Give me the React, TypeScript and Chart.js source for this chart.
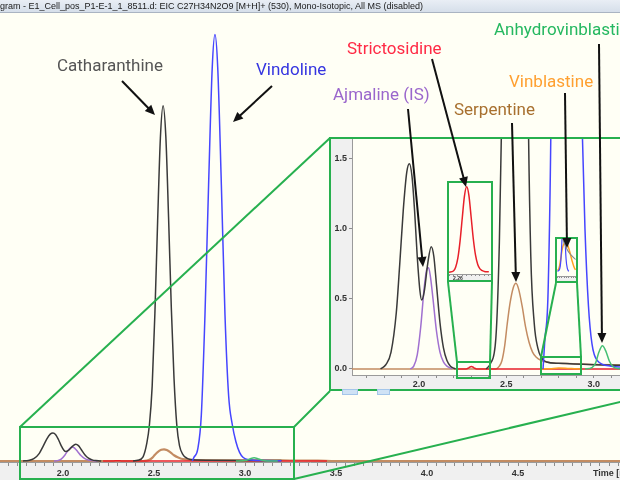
import React, { useEffect, useRef } from 'react';
import { Chart, registerables } from 'chart.js';

Chart.register(...registerables);

type Pt = [number, number | null];

// ---- EIC traces: [retention time (min), intensity (inset units)] ----
const catharanthine: Pt[] = [
  [1.78, 0], [1.81, 0.03], [1.84, 0.12], [1.87, 0.4], [1.89, 0.75], [1.91, 1.13], [1.93, 1.4],
  [1.945, 1.46], [1.96, 1.37], [1.975, 1.12], [1.99, 0.8], [2.005, 0.56], [2.015, 0.49], [2.03, 0.55],
  [2.05, 0.75], [2.07, 0.87], [2.085, 0.8], [2.1, 0.6], [2.12, 0.33], [2.14, 0.15], [2.16, 0.06],
  [2.18, 0.02], [2.2, 0.005], [2.21, 0], [2.3, null],
  [2.385, 0], [2.41, 0.04], [2.44, 0.22], [2.46, 0.9], [2.475, 1.9], [2.49, 3.9], [2.505, 7.7],
  [2.52, 12.5], [2.535, 16.8], [2.55, 18.5], [2.565, 16.9], [2.58, 12.7], [2.595, 8.0], [2.61, 4.3],
  [2.625, 1.9], [2.64, 0.8], [2.66, 0.32], [2.68, 0.15], [2.7, 0.08], [2.73, 0.05], [2.8, 0.04],
  [3.0, 0.03], [3.2, 0.025],
];
const vindoline: Pt[] = [
  [2.71, 0], [2.72, 0.2], [2.74, 0.6], [2.76, 2.4], [2.78, 7.6], [2.8, 14.4], [2.82, 20.5],
  [2.835, 22.2], [2.85, 20.5], [2.87, 14.4], [2.89, 7.6], [2.91, 3.4], [2.93, 1.9], [2.95, 1.0],
  [2.97, 0.45], [2.99, 0.18], [3.02, 0.06], [3.1, 0.02], [3.2, 0.01],
];
const ajmaline: Pt[] = [
  [1.95, 0], [1.97, 0.02], [1.99, 0.1], [2.01, 0.3], [2.03, 0.58], [2.045, 0.71], [2.055, 0.72],
  [2.065, 0.66], [2.08, 0.5], [2.1, 0.27], [2.12, 0.12], [2.14, 0.05], [2.16, 0.02], [2.19, 0],
];
const serpentine: Pt[] = [
  [1.6, 0], [2.44, 0], [2.46, 0.02], [2.475, 0.06], [2.49, 0.16], [2.505, 0.32], [2.52, 0.46],
  [2.54, 0.58], [2.555, 0.61], [2.57, 0.57], [2.59, 0.45], [2.61, 0.3], [2.63, 0.19], [2.65, 0.12],
  [2.67, 0.085], [2.7, 0.06], [2.75, 0.045], [2.85, 0.038], [3.0, 0.032], [3.2, 0.028], [3.4, 0.02],
  [3.5, 0], [5.2, 0],
];
const strictosidine: Pt[] = [
  [2.22, 0], [2.27, 0], [2.285, 0.008], [2.3, 0.018], [2.315, 0.008], [2.33, 0], [3.45, 0],
];
const vinblastine: Pt[] = [
  [2.7, 0], [2.75, 0.002], [2.8, 0.006], [2.85, 0.004], [2.9, 0.001], [2.93, 0],
];
const anhydrovinblastine: Pt[] = [
  [2.95, 0], [2.99, 0.01], [3.01, 0.04], [3.03, 0.12], [3.05, 0.165], [3.07, 0.125], [3.09, 0.055],
  [3.11, 0.018], [3.14, 0.003], [3.18, 0],
];

// ---- zoom boxes ----
const strictosidineZoom: Pt[] = [
  [2.22, 0], [2.24, 0.0003], [2.25, 0.0012], [2.26, 0.0033], [2.27, 0.0073], [2.28, 0.0127],
  [2.29, 0.0179], [2.3, 0.02], [2.31, 0.018], [2.32, 0.013], [2.33, 0.0078], [2.34, 0.004],
  [2.35, 0.0018], [2.36, 0.0008], [2.38, 0.0002], [2.4, 0.0001],
];
const vinblastineZoom: Pt[] = [
  [2.78, 0.05], [2.785, 0.08], [2.79, 0.2], [2.795, 0.42], [2.8, 0.65], [2.805, 0.8], [2.81, 0.87],
  [2.818, 0.88], [2.825, 0.82], [2.835, 0.6], [2.845, 0.33], [2.855, 0.12], [2.86, 0.07],
];
const vindolineZoom: Pt[] = [
  [2.78, 0.02], [2.79, 0.1], [2.795, 0.35], [2.8, 1.0], [2.804, 2.0], [2.807, 3.0], [2.81, 2.0],
  [2.814, 1.0], [2.818, 0.4], [2.824, 0.1], [2.83, 0.02],
];
const otherZoom: Pt[] = [
  [2.8, 1.3], [2.806, 0.95], [2.812, 0.85], [2.82, 0.72], [2.83, 0.6], [2.845, 0.48], [2.86, 0.38],
];

// ---- tick labels ----
const mainXLabels = [2.0, 2.5, 3.0, 3.5, 4.0, 4.5];
const insetXLabels = [2.0, 2.5, 3.0];
const insetYLabels = [0.0, 0.5, 1.0, 1.5];
const strictZoomLabels = [2.26];

const C = {
  black: '#3a3a3a',
  blue: '#4646ff',
  purple: '#a070d0',
  brown: '#c38c62',
  red: '#e8202a',
  orange: '#ffa020',
  green: '#45c074',
  gray: '#8a8a8a',
  frame: '#27b04f',
  ivory: '#fffff5',
  panel: '#f0f0f0',
};

function toXY(p: Pt[]) {
  return p.map(([x, y]) => ({ x, y }));
}

function line(data: Pt[], color: string, width = 1.5) {
  return {
    data: toXY(data),
    borderColor: color,
    borderWidth: width,
    pointRadius: 0,
    pointHoverRadius: 0,
    fill: false,
    cubicInterpolationMode: 'monotone',
    spanGaps: false,
  };
}

const bgPlugin = {
  id: 'bgfill',
  beforeDraw(chart: any) {
    const { ctx, chartArea: a, width, height } = chart;
    ctx.save();
    ctx.fillStyle = C.panel;
    ctx.fillRect(0, 0, width, height);
    ctx.fillStyle = C.ivory;
    ctx.fillRect(a.left, a.top, a.right - a.left, a.bottom - a.top);
    ctx.restore();
  },
};

function stepTicks(min: number, max: number, step: number) {
  const out: { value: number }[] = [];
  for (let k = Math.ceil(min / step - 1e-9); k * step <= max + 1e-9; k++) {
    out.push({ value: +(k * step).toFixed(4) });
  }
  return out;
}

function noPad(s: any) {
  s.paddingTop = 0;
  s.paddingBottom = 0;
  s.paddingLeft = 0;
  s.paddingRight = 0;
}

function timeAxis(o: {
  min: number; max: number; minor: number; labels: number[]; dec: number;
  height: number; size: number; tickLen: number; pad: number;
}) {
  return {
    type: 'linear',
    min: o.min,
    max: o.max,
    afterBuildTicks: (s: any) => { s.ticks = stepTicks(o.min, o.max, o.minor); },
    afterFit: (s: any) => { s.height = o.height; noPad(s); },
    ticks: {
      autoSkip: false, maxRotation: 0, minRotation: 0, padding: o.pad, color: '#333',
      font: { family: 'Liberation Sans', size: o.size, weight: 'bold' },
      callback: (v: number) => {
        const l = o.labels.find((L) => Math.abs(L - v) < 1e-6);
        return l === undefined ? '' : l.toFixed(o.dec);
      },
    },
    grid: { drawOnChartArea: false, drawTicks: true, tickLength: o.tickLen, color: '#8c8c8c' },
    border: { display: true, color: '#9a9a9a' },
  };
}

function hiddenY(min: number, max: number) {
  return { type: 'linear', display: false, min, max };
}

function baseOptions(scales: any) {
  return {
    responsive: false,
    animation: false,
    devicePixelRatio: 1,
    events: [],
    layout: { padding: 0, autoPadding: false },
    plugins: { legend: { display: false }, tooltip: { enabled: false }, title: { display: false } },
    scales,
  };
}

function ChartBox({ width, height, make }: { width: number; height: number; make: () => any }) {
  const ref = useRef<HTMLCanvasElement>(null);
  useEffect(() => {
    const chart = new Chart(ref.current as HTMLCanvasElement, make());
    return () => chart.destroy();
  }, []);
  return <canvas ref={ref} width={width} height={height} style={{ display: 'block', width, height }} />;
}

const makeMain = () => ({
  type: 'line',
  data: {
    datasets: [
      line(anhydrovinblastine, C.green),
      line(vindoline, C.blue),
      line(catharanthine, C.black),
      line(ajmaline, C.purple),
      line(strictosidine, C.red),
      line(serpentine, C.brown, 2.2),
    ],
  },
  options: baseOptions({
    x: timeAxis({ min: 1.654, max: 5.06, minor: 0.05, labels: mainXLabels, dec: 1, height: 18, size: 9, tickLen: 4, pad: 2 }),
    y: hiddenY(-0.052, 24.0),
  }),
  plugins: [bgPlugin],
});

const makeInset = () => {
  const opts = baseOptions({
    x: timeAxis({ min: 1.6165, max: 3.1506, minor: 0.1, labels: insetXLabels, dec: 1, height: 14, size: 9, tickLen: 3, pad: 1 }),
    y: {
      type: 'linear', min: -0.043, max: 1.636,
      afterBuildTicks: (s: any) => { s.ticks = insetYLabels.map((v) => ({ value: v })); },
      afterFit: (s: any) => { s.width = 21; noPad(s); },
      ticks: {
        padding: 2, color: '#333', font: { family: 'Liberation Sans', size: 9, weight: 'bold' },
        callback: (v: number) => v.toFixed(1),
      },
      grid: { drawOnChartArea: false, drawTicks: true, tickLength: 3, color: '#8c8c8c' },
      border: { display: true, color: '#9a9a9a' },
    },
  });
  return {
    type: 'line',
    data: {
      datasets: [
        line(anhydrovinblastine, C.green),
        line(vindoline, C.blue),
        line(catharanthine, C.black),
        line(ajmaline, C.purple),
        line(vinblastine, C.orange),
        line(strictosidine, C.red),
        line(serpentine, C.brown),
      ],
    },
    options: opts,
    plugins: [bgPlugin],
  };
};

const makeStrictZoom = () => ({
  type: 'line',
  data: { datasets: [line(strictosidineZoom, C.red, 1.5)] },
  options: baseOptions({
    x: timeAxis({ min: 2.22, max: 2.41, minor: 0.02, labels: strictZoomLabels, dec: 2, height: 6, size: 5, tickLen: 2, pad: 0 }),
    y: hiddenY(-0.0004, 0.0209),
  }),
  plugins: [bgPlugin],
});

const makeVinZoom = () => ({
  type: 'line',
  data: {
    datasets: [
      line(otherZoom, C.gray, 1.2),
      line(vindolineZoom, C.blue, 1.2),
      line(vinblastineZoom, C.orange, 1.5),
    ],
  },
  options: baseOptions({
    x: timeAxis({ min: 2.778, max: 2.862, minor: 0.01, labels: [], dec: 2, height: 5, size: 5, tickLen: 2, pad: 0 }),
    y: hiddenY(-0.12, 1.0),
  }),
  plugins: [bgPlugin],
});

// ---- annotations ----
const LABELS = [
  { text: 'Catharanthine', x: 57, y: 65, color: '#555555' },
  { text: 'Vindoline', x: 256, y: 69, color: '#3535e0' },
  { text: 'Strictosidine', x: 347, y: 48, color: '#ff2a45' },
  { text: 'Ajmaline (IS)', x: 333, y: 94, color: '#9a66cc' },
  { text: 'Serpentine', x: 454, y: 109, color: '#a8702f' },
  { text: 'Vinblastine', x: 509, y: 81, color: '#ffa030' },
  { text: 'Anhydrovinblastine', x: 494, y: 29, color: '#25b860' },
];

const ARROWS: [number, number, number, number][] = [
  [122, 81, 155, 115],
  [272, 86, 233, 122],
  [408, 109, 423, 267],
  [432, 59, 466, 187],
  [512, 123, 516, 282],
  [565, 93, 567, 248],
  [599, 44, 602, 343],
];

function Arrow({ a }: { a: [number, number, number, number] }) {
  const [x1, y1, x2, y2] = a;
  const dx = x2 - x1, dy = y2 - y1;
  const L = Math.hypot(dx, dy);
  const ux = dx / L, uy = dy / L;
  const hl = 10, hw = 4.5;
  const bx = x2 - ux * hl, by = y2 - uy * hl;
  const pts = `${x2},${y2} ${bx - uy * hw},${by + ux * hw} ${bx + uy * hw},${by - ux * hw}`;
  return (
    <g>
      <line x1={x1} y1={y1} x2={bx + ux * 1} y2={by + uy * 1} stroke="#111" strokeWidth={2} />
      <polygon points={pts} fill="#111" />
    </g>
  );
}

const abs = (l: number, t: number, w: number, h: number, extra: any = {}) => ({
  position: 'absolute' as const, left: l, top: t, width: w, height: h, boxSizing: 'border-box' as const, ...extra,
});

export default function App() {
  const g = C.frame;
  return (
    <div style={abs(0, 0, 620, 480, { overflow: 'hidden', background: C.ivory })}>
      <div style={abs(0, 0, 620, 480)}>
        <ChartBox width={620} height={480} make={makeMain} />
      </div>

      <svg width={620} height={480} style={{ position: 'absolute', left: 0, top: 0 }}>
        <rect x={20} y={427} width={274} height={52} fill="none" stroke={g} strokeWidth={2} />
        <line x1={20} y1={427} x2={330} y2={138} stroke={g} strokeWidth={2} />
        <line x1={294} y1={427} x2={330} y2={391} stroke={g} strokeWidth={2} />
        <line x1={294} y1={479} x2={700} y2={383} stroke={g} strokeWidth={2} />
      </svg>

      <div style={abs(329, 137, 291, 254, { borderLeft: `2px solid ${g}`, borderTop: `2px solid ${g}`, borderBottom: `2px solid ${g}` })}>
        <ChartBox width={289} height={250} make={makeInset} />
      </div>

      <div style={abs(447, 181, 46, 101, { border: `2px solid ${g}` })}>
        <ChartBox width={42} height={97} make={makeStrictZoom} />
      </div>
      <div style={abs(555, 237, 23, 46, { border: `2px solid ${g}` })}>
        <ChartBox width={19} height={42} make={makeVinZoom} />
      </div>

      <svg width={620} height={480} style={{ position: 'absolute', left: 0, top: 0 }}>
        <line x1={448} y1={282} x2={457} y2={362} stroke={g} strokeWidth={2} />
        <line x1={492} y1={282} x2={490} y2={362} stroke={g} strokeWidth={2} />
        <rect x={457} y={362} width={33} height={16} fill="none" stroke={g} strokeWidth={2} />
        <line x1={556} y1={283} x2={541} y2={357} stroke={g} strokeWidth={2} />
        <line x1={577} y1={283} x2={581} y2={357} stroke={g} strokeWidth={2} />
        <rect x={541} y={357} width={40} height={17} fill="none" stroke={g} strokeWidth={2} />
        {ARROWS.map((a, i) => <Arrow key={i} a={a} />)}
      </svg>

      <div style={abs(342, 389, 16, 6, { background: '#cfe2f5', border: '1px solid #a4c6ea' })} />
      <div style={abs(377, 389, 13, 6, { background: '#cfe2f5', border: '1px solid #a4c6ea' })} />

      {LABELS.map((l) => (
        <div key={l.text} style={{
          position: 'absolute', left: l.x, top: l.y - 10, color: l.color, fontFamily: 'Roboto',
          fontSize: 17, lineHeight: '20px', whiteSpace: 'nowrap',
        }}>{l.text}</div>
      ))}

      <div style={{
        position: 'absolute', left: 593, top: 467, fontFamily: 'Liberation Sans', fontWeight: 'bold',
        fontSize: 9, lineHeight: '12px', color: '#333', whiteSpace: 'nowrap',
      }}>Time [min]</div>

      <div style={abs(0, 0, 620, 13, {
        background: 'linear-gradient(#e9eef5, #d6dfea)', borderBottom: '1px solid #aab4c2',
        fontFamily: 'Liberation Sans', fontSize: 9, lineHeight: '12px', color: '#1a1a1a',
        whiteSpace: 'nowrap', overflow: 'hidden',
      })}>gram - E1_Cell_pos_P1-E-1_1_8511.d: EIC C27H34N2O9 [M+H]+ (530), Mono-Isotopic, All MS (disabled)</div>
    </div>
  );
}
